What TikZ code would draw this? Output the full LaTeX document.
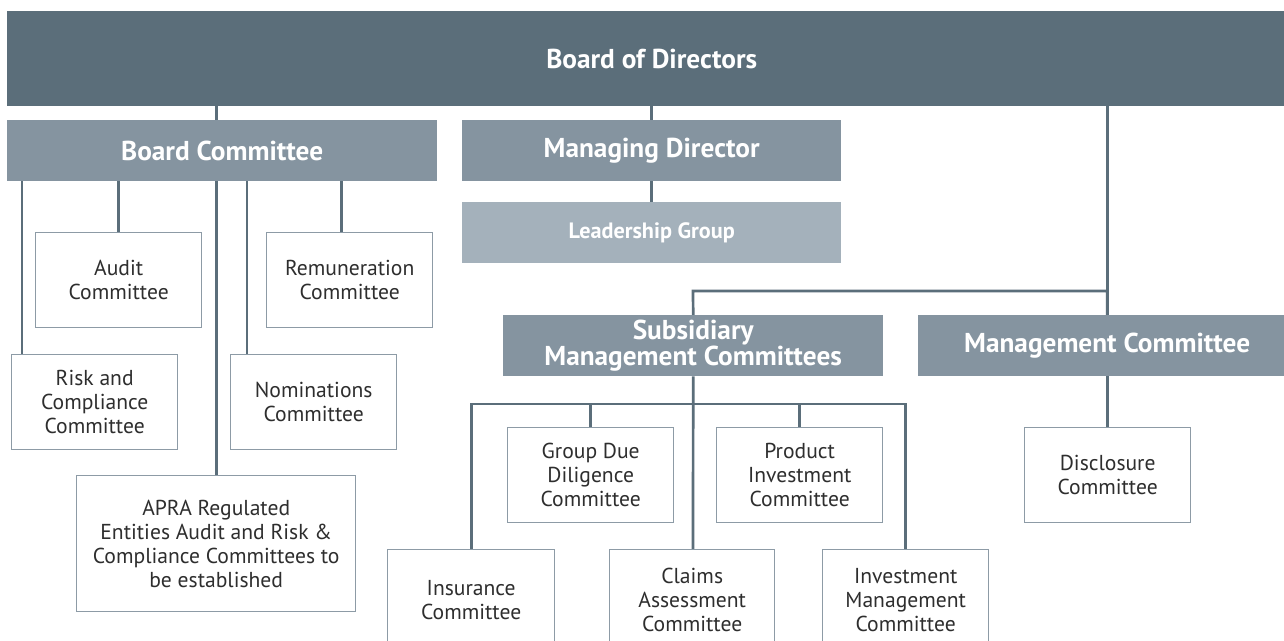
\documentclass[tikz,border=0pt]{standalone}
\usepackage{fontspec}
\setmainfont{PT Sans}
\usetikzlibrary{backgrounds}
\definecolor{darkc}{HTML}{5B6E7A}
\definecolor{midc}{HTML}{8594A0}
\definecolor{lightc}{HTML}{A4B1BB}
\definecolor{bordc}{HTML}{8D9BA6}
\definecolor{txtc}{HTML}{2E2E2E}
\tikzset{
  hdr/.style={anchor=north west, inner sep=0pt, fill=midc, text=white,
    font=\fontsize{27.3}{26}\selectfont\bfseries, align=center},
  cbox/.style={anchor=north west, inner sep=0pt, draw=bordc, line width=1.4pt, fill=white,
    text=txtc, font=\fontsize{21.6}{24}\selectfont, align=center,
    minimum width=166pt, minimum height=95pt},
  conn/.style={draw=darkc, line width=2.7pt}
}
\begin{document}
\begin{tikzpicture}[x=1pt,y=-1pt]
\clip (0,0) rectangle (1284,640);
% top level
\node[hdr, fill=darkc, minimum width=1289pt, minimum height=95pt] (board) at (7,11) {Board of Directors};
\node[hdr, minimum width=430pt, minimum height=61pt] (bc) at (7,120) {Board Committee};
\node[hdr, minimum width=379pt, minimum height=61pt] (md) at (462,120) {Managing Director};
\node[hdr, fill=lightc, minimum width=379pt, minimum height=61pt, font=\fontsize{22.2}{24}\selectfont\bfseries] (lg) at (462,202) {Leadership Group};
% board committee children
\node[cbox] (audit) at (35,232) {Audit\\Committee};
\node[cbox] (rem) at (266,232) {Remuneration\\Committee};
\node[cbox] (risk) at (11,354) {Risk and\\Compliance\\Committee};
\node[cbox] (nom) at (230,354) {Nominations\\Committee};
\node[cbox, minimum width=279pt, minimum height=136pt] (apra) at (76,475) {APRA Regulated\\Entities Audit and Risk \&\\Compliance Committees to\\be established};
% management
\node[hdr, minimum width=380pt, minimum height=61pt, font=\fontsize{27.3}{25}\selectfont\bfseries] (smc) at (503,315) {Subsidiary\\Management Committees};
\node[hdr, minimum width=378pt, minimum height=61pt] (mc) at (918,315) {Management Committee};
\node[cbox] (disc) at (1024,427) {Disclosure\\Committee};
\node[cbox] (gdd) at (507,427) {Group Due\\Diligence\\Committee};
\node[cbox] (pic) at (716,427) {Product\\Investment\\Committee};
\node[cbox, minimum width=167pt, minimum height=100pt] (ins) at (387,549) {Insurance\\Committee};
\node[cbox, minimum width=165pt, minimum height=100pt] (claims) at (609,549) {Claims\\Assessment\\Committee};
\node[cbox, minimum width=166pt, minimum height=100pt] (inv) at (822,549) {Investment\\Management\\Committee};
\coordinate (bus) at (693,404);
\coordinate (mbus) at (693,291);
\begin{scope}[on background layer]
  \fill[white] (0,0) rectangle (1284,640);
  \draw[conn] (apra.north) -- (apra.north |- board.south);
  \draw[conn] (md.north) -- (md.north |- board.south);
  \draw[conn] (md.south) -- (lg.north);
  \draw[conn] (disc.north) -- (disc.north |- board.south);
  \draw[conn] (audit.north) -- (audit.north |- bc.south);
  \draw[conn] ([xshift=-8pt]rem.north) -- ([xshift=-8pt]rem.north |- bc.south);
  \draw[conn] ([xshift=11pt]risk.north west) -- ([xshift=11pt]risk.north west |- bc.south);
  \draw[conn] ([xshift=17pt]nom.north west) -- ([xshift=17pt]nom.north west |- bc.south);
  \draw[conn] (smc.north) -- (mbus) -| (mc.north);
  \draw[conn] (smc.south) -- (bus |- claims.north);
  \draw[conn] (ins.north) |- (bus) -| (inv.north);
  \draw[conn] (gdd.north) -- (gdd.north |- bus);
  \draw[conn] (pic.north) -- (pic.north |- bus);
\end{scope}
\end{tikzpicture}
\end{document}
